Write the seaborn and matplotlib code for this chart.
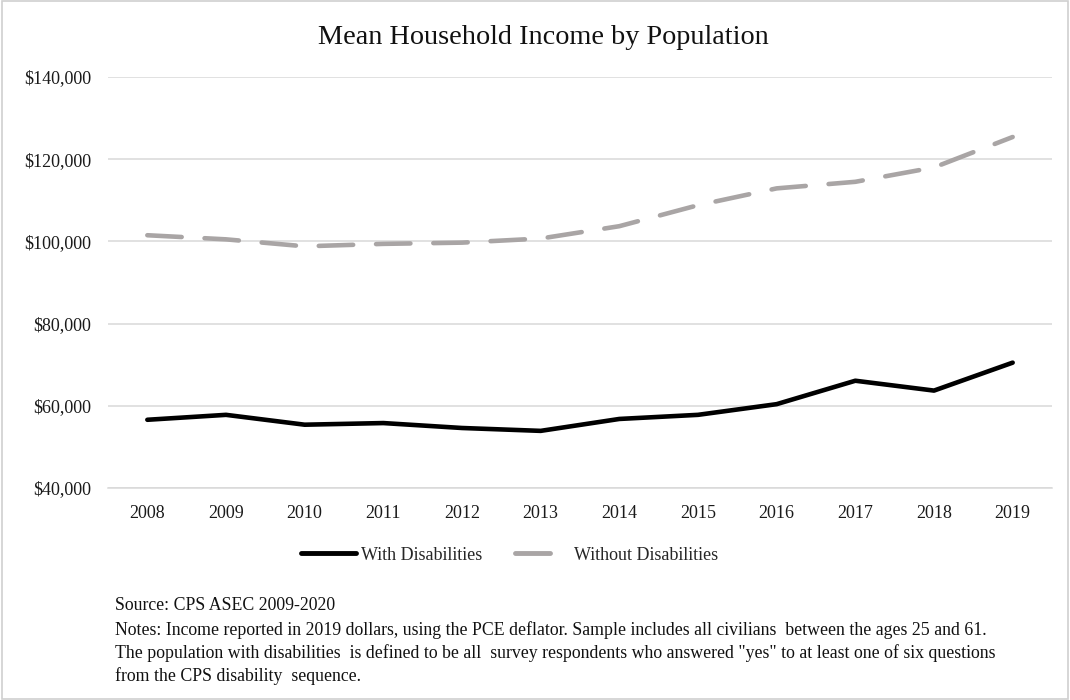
import matplotlib
matplotlib.use("Agg")
import matplotlib.pyplot as plt
import matplotlib.ticker as mticker
from matplotlib.lines import Line2D
from matplotlib.patches import Rectangle
import pandas as pd
import seaborn as sns

years = [2008, 2009, 2010, 2011, 2012, 2013, 2014, 2015, 2016, 2017, 2018, 2019]
with_disabilities = [56600, 57800, 55400, 55800, 54600, 53900, 56800, 57800, 60400, 66100, 63700, 70500]
without_disabilities = [101500, 100500, 98800, 99400, 99700, 100700, 103700, 108800, 112900, 114500, 118000, 125400]
series_names = ["With Disabilities", "Without Disabilities"]
y_ticks = [40000, 60000, 80000, 100000, 120000, 140000]

title = "Mean Household Income by Population"
notes = [
    "Source: CPS ASEC 2009-2020",
    "Notes: Income reported in 2019 dollars, using the PCE deflator. Sample includes all civilians  between the ages 25 and 61.",
    "The population with disabilities  is defined to be all  survey respondents who answered \"yes\" to at least one of six questions",
    "from the CPS disability  sequence.",
]

df = pd.DataFrame({
    "year": [str(y) for y in years] * 2,
    "income": with_disabilities + without_disabilities,
    "group": [series_names[0]] * len(years) + [series_names[1]] * len(years),
})

sns.set_theme(style="white")
plt.rcParams["font.family"] = ["Liberation Serif", "DejaVu Serif"]

fig = plt.figure(figsize=(10.7, 7.0), dpi=100)
ax = fig.add_axes([108 / 1070, 1 - 488 / 700, (1052 - 108) / 1070, (488 - 77) / 700])

black = "#000000"
gray = "#A9A5A5"
sns.lineplot(data=df, x="year", y="income", hue="group", style="group",
             palette={series_names[0]: black, series_names[1]: gray},
             dashes={series_names[0]: "", series_names[1]: (7.5, 5)},
             linewidth=3.3, legend=False, ax=ax, sort=False)
for ln in ax.lines:
    ln.set_solid_capstyle("round")
    ln.set_dash_capstyle("round")
    ln.set_solid_joinstyle("round")

ax.set_xlim(-0.5, len(years) - 0.5)
ax.set_ylim(y_ticks[0], y_ticks[-1])
ax.set_yticks(y_ticks)
ax.yaxis.set_major_formatter(mticker.FuncFormatter(lambda v, p: f"${v:,.0f}"))
ax.grid(axis="y", color="#D9D9D9", linewidth=1.1)
ax.set_axisbelow(True)
for s in ["top", "right", "left"]:
    ax.spines[s].set_visible(False)
ax.spines["bottom"].set_color("#D9D9D9")
ax.spines["bottom"].set_linewidth(1.1)
ax.tick_params(axis="both", length=0, labelsize=13, colors="#1a1a1a")
ax.tick_params(axis="x", pad=12)
ax.tick_params(axis="y", pad=12)
ax.set_xlabel("")
ax.set_ylabel("")

fig.text(543 / 1070, 1 - 37 / 700, title, ha="center", va="center", fontsize=20.3, color="#111111")

handles = [
    Line2D([0], [0], color=black, lw=3.5, solid_capstyle="round"),
    Line2D([0], [0], color=gray, lw=3.5, dash_capstyle="round", dashes=(7.2, 6)),
]
fig.legend(handles, series_names, loc="center", bbox_to_anchor=(510 / 1070, 1 - 555 / 700),
           ncol=2, frameon=False, fontsize=13, handlelength=3.0, handletextpad=0.3,
           columnspacing=1.8)

note_y = [605, 630, 653, 676]
for txt, yp in zip(notes, note_y):
    fig.text(115 / 1070, 1 - yp / 700, txt, ha="left", va="center", fontsize=12.8, color="#111111")

fig.patches.append(Rectangle((0.0015, 0.002), 0.997, 0.996, transform=fig.transFigure,
                             fill=False, edgecolor="#D0D0D0", linewidth=1.2))

fig.savefig("out.png", dpi=100, facecolor="white")
